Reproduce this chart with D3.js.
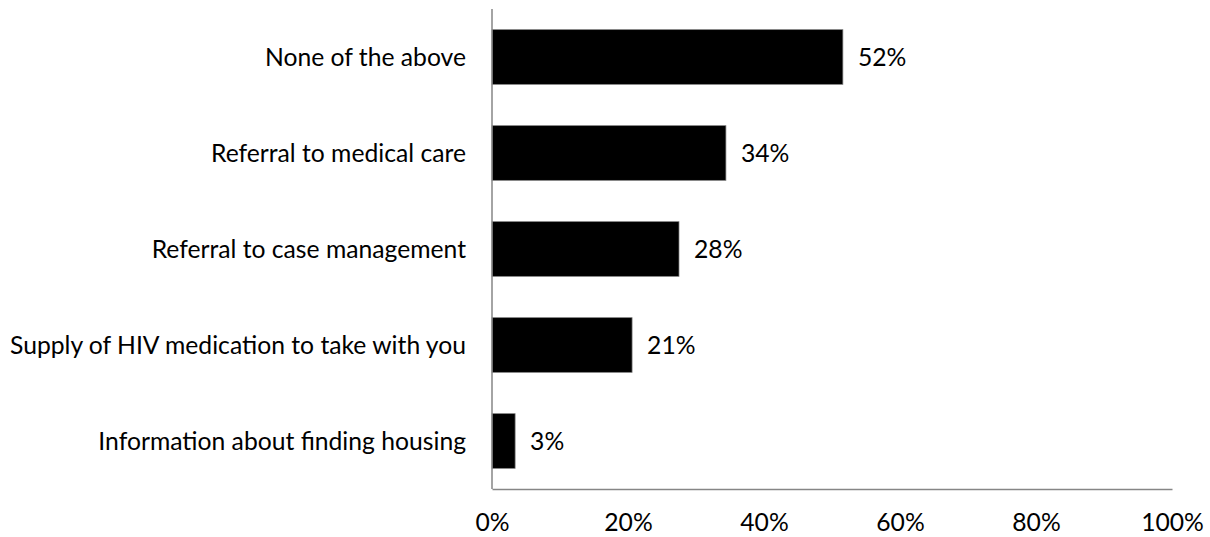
<!DOCTYPE html>
<html><head><meta charset="utf-8">
<script src="https://cdn.jsdelivr.net/npm/d3@7"></script>
<style>body{margin:0;background:#fff}svg{display:block}</style>
</head><body><svg id="c" width="1210" height="537"></svg>
<script>
const categories = ["None of the above","Referral to medical care","Referral to case management","Supply of HIV medication to take with you","Information about finding housing"];
const values = [51.6, 34.4, 27.5, 20.6, 3.4];
const valueLabels = ["52%","34%","28%","21%","3%"];
const ticks = [0,20,40,60,80,100];

const svg = d3.select("#c");
const font = "Lato, 'Open Sans', sans-serif";
const fs = 24.7;
const x = d3.scaleLinear().domain([0,100]).range([492,1172]);
const y = d3.scaleBand().domain(categories).range([9,489]).paddingInner(0.43).paddingOuter(0.215);

svg.selectAll("rect.bar").data(values).join("rect")
  .attr("class","bar")
  .attr("x",x(0)).attr("y",(d,i)=>y(categories[i]))
  .attr("width",d=>x(d)-x(0)).attr("height",y.bandwidth())
  .attr("fill","#000").attr("stroke","#808080").attr("stroke-width",0.75);

svg.selectAll("text.val").data(values).join("text")
  .attr("class","val")
  .attr("x",d=>x(d)+15).attr("y",(d,i)=>y(categories[i])+y.bandwidth()/2)
  .attr("dy","0.35em").attr("font-family",font).attr("font-size",fs).attr("fill","#000")
  .text((d,i)=>valueLabels[i]);

svg.selectAll("text.cat").data(categories).join("text")
  .attr("class","cat")
  .attr("x",466).attr("y",d=>y(d)+y.bandwidth()/2)
  .attr("dy","0.35em").attr("text-anchor","end")
  .attr("font-family",font).attr("font-size",fs).attr("fill","#000")
  .text(d=>d);

const xa = svg.append("g").attr("transform","translate(0,489)")
  .call(d3.axisBottom(x).tickValues(ticks).tickSize(0).tickPadding(24).tickFormat(d=>d+"%"));
xa.select(".domain").attr("stroke","#868686").attr("stroke-width",1.5);
xa.selectAll("text").attr("font-family",font).attr("font-size",fs).attr("fill","#000")
  .attr("y",42).attr("dy",0);

const ya = svg.append("g").attr("transform","translate(492,0)")
  .call(d3.axisLeft(y).tickSize(0).tickFormat(""));
ya.select(".domain").attr("stroke","#868686").attr("stroke-width",1.5).attr("d","M0,9V489");
</script></body></html>
